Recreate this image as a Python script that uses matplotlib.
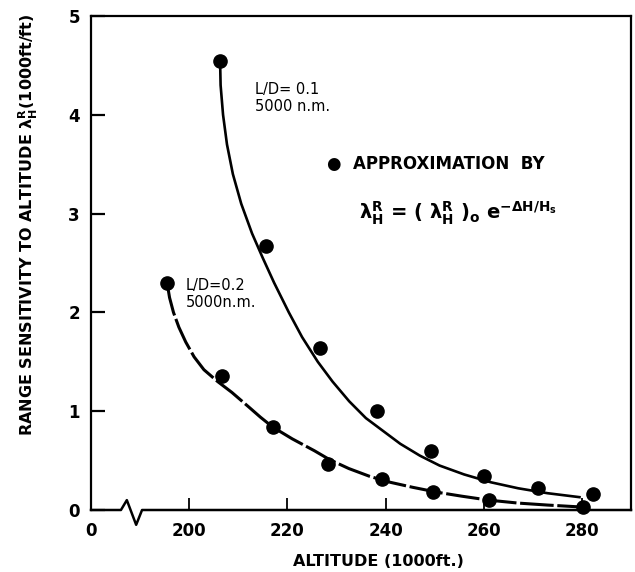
import matplotlib
matplotlib.use('Agg')
import matplotlib.pyplot as plt

# points L/D = 0.1 (dots)
alt_01 = [206.3, 215.7, 226.6, 238.2, 249.3, 260.0, 271.0, 282.3]
lam_01 = [4.54, 2.67, 1.64, 1.00, 0.60, 0.34, 0.22, 0.16]
# points L/D = 0.2 (dots)
alt_02 = [195.5, 206.7, 217.0, 228.3, 239.2, 249.7, 261.0, 280.2]
lam_02 = [2.30, 1.36, 0.84, 0.47, 0.31, 0.18, 0.10, 0.03]

# curves
curve_x_01 = [206.3, 206.4, 206.9, 207.7, 208.9, 210.6, 212.8, 215.0, 217.3,
              220.3, 223.0, 226.2, 229.2, 232.6, 236.0, 239.5, 243.0, 247.0,
              251.0, 256.0, 261.5, 267.0, 273.0, 279.5]
curve_y_01 = [4.54, 4.30, 4.00, 3.70, 3.40, 3.10, 2.80, 2.55, 2.30,
              2.00, 1.75, 1.50, 1.30, 1.10, 0.93, 0.80, 0.67, 0.55,
              0.45, 0.36, 0.28, 0.22, 0.17, 0.13]
curve_x_02 = [195.5, 196.0, 196.8, 197.9, 199.3, 201.0, 203.0, 205.8, 208.7,
              212.2, 214.5, 217.0, 221.0, 225.5, 228.6, 232.5, 236.8, 241.0,
              245.5, 250.5, 255.5, 261.0, 267.0, 273.0, 280.0]
curve_y_02 = [2.30, 2.15, 2.00, 1.85, 1.70, 1.55, 1.42, 1.30, 1.19,
              1.04, 0.94, 0.84, 0.72, 0.60, 0.51, 0.42, 0.34, 0.28,
              0.23, 0.18, 0.14, 0.10, 0.07, 0.05, 0.03]

x_ticks = [180, 200, 220, 240, 260, 280]
x_labels = ['0', '200', '220', '240', '260', '280']
y_ticks = [0, 1, 2, 3, 4, 5]

# broken axis line along the bottom
break_x = [180, 186.1, 187.3, 189.2, 190.4, 290]
break_y = [0, 0, 0.10, -0.15, 0, 0]

fig = plt.figure(figsize=(6.35, 5.72), dpi=100)
ax = fig.add_axes([91 / 635, 62 / 572, 540 / 635, 494 / 572])

ax.plot(curve_x_01, curve_y_01, color='black', lw=1.9)
ax.plot(curve_x_02, curve_y_02, color='black', lw=2.2, dashes=(11, 1.2))
ax.plot(alt_01, lam_01, 'o', color='black', ms=9.5, clip_on=False)
ax.plot(alt_02, lam_02, 'o', color='black', ms=9.5, clip_on=False)

ax.plot(break_x, break_y, color='black', lw=1.8, clip_on=False)

ax.set_xlim(180, 290)
ax.set_ylim(0, 5)
ax.spines['bottom'].set_visible(False)
for s in ['left', 'right', 'top']:
    ax.spines[s].set_linewidth(1.6)

font = {'family': 'DejaVu Sans', 'weight': 'bold', 'size': 12}
ax.set_xticks(x_ticks)
ax.set_xticklabels(x_labels, fontdict=font)
ax.set_yticks(y_ticks)
ax.set_yticklabels([str(v) for v in y_ticks], fontdict=font)
ax.tick_params(axis='x', direction='in', length=9, width=1.3, pad=9)
ax.tick_params(axis='y', direction='in', length=10, width=1.6, pad=8)
ax.xaxis.get_major_ticks()[0].tick1line.set_visible(False)

fig.text(378 / 635, 1 - 561 / 572, 'ALTITUDE (1000ft.)', ha='center', va='center',
         fontsize=11.5, fontweight='bold')
fig.text(28 / 635, 1 - 225 / 572,
         r'RANGE SENSITIVITY TO ALTITUDE $\mathbf{\lambda_H^R}$(1000ft/ft)',
         rotation=90, ha='center', va='center', fontsize=11.5, fontweight='bold')

ax.text(213.5, 4.17, 'L/D= 0.1\n5000 n.m.', fontsize=10.5, va='center',
        linespacing=1.15, fontweight='medium')
ax.text(199.3, 2.19, 'L/D=0.2\n5000n.m.', fontsize=10.5, va='center',
        linespacing=1.15, fontweight='medium')
ax.text(228.0, 3.50, u'\u25CF  APPROXIMATION  BY', fontsize=12,
        fontweight='bold', va='center')
ax.text(234.5, 3.00,
        r'$\mathbf{\lambda_H^R}$ = ( $\mathbf{\lambda_H^R}$ )$_\mathbf{o}$ e$^{\mathbf{-\Delta H/H_s}}$',
        fontsize=14, fontweight='bold', va='center')

fig.savefig('out.png', dpi=100)
